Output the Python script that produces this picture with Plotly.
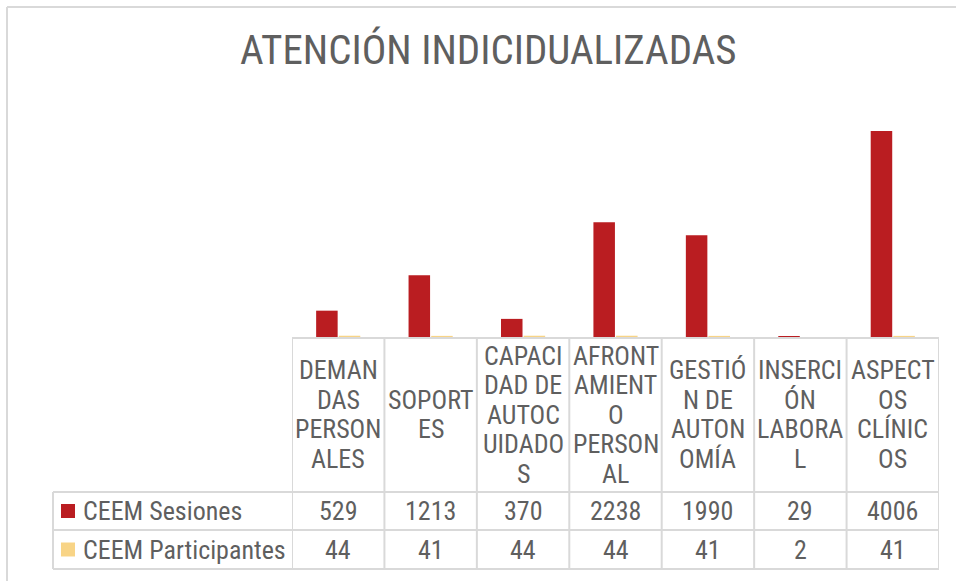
import plotly.graph_objects as go

categories = ["DEMAN<br>DAS<br>PERSON<br>ALES", "SOPORT<br>ES", "CAPACI<br>DAD DE<br>AUTOC<br>UIDADO<br>S",
              "AFRONT<br>AMIENT<br>O<br>PERSON<br>AL", "GESTIÓ<br>N DE<br>AUTON<br>OMÍA", "INSERCI<br>ÓN<br>LABORA<br>L",
              "ASPECT<br>OS<br>CLÍNIC<br>OS"]
series_names = ["CEEM Sesiones", "CEEM Participantes"]
sesiones = [529, 1213, 370, 2238, 1990, 29, 4006]
participantes = [44, 41, 44, 44, 41, 2, 41]
series_values = [sesiones, participantes]
series_colors = ["#BA1D21", "#F8D486"]
title_text = "ATENCIÓN INDICIDUALIZADAS"

W, H = 956, 581
FONT = "Liberation Sans Narrow, Arial Narrow, Roboto Condensed, Liberation Sans, sans-serif"
TXT = "#5f5f5f"
GRID = "#D9D9D9"


def px(x):
    return x / W


def py(y):
    return 1 - y / H


n = len(categories)
xs = list(range(n))

fig = go.Figure()
for name, vals, col in zip(series_names, series_values, series_colors):
    fig.add_trace(go.Bar(x=xs, y=vals, name=name, marker=dict(color=col, line=dict(width=0)),
                         hoverinfo="x+y+name"))

# table geometry (pixels)
x_left, x_plot, x_right = 53, 292, 939
y_base, y_row1, y_row2, y_bot = 338, 492, 530, 569

shapes = []
# outer chart border (top and left edges visible)
shapes.append(dict(type="line", xref="paper", yref="paper", x0=px(7), x1=px(965), y0=py(7), y1=py(7),
                   line=dict(color=GRID, width=2)))
shapes.append(dict(type="line", xref="paper", yref="paper", x0=px(7), x1=px(7), y0=py(7), y1=py(590),
                   line=dict(color=GRID, width=2)))
# horizontal lines
for yy, x0 in [(y_base, x_plot), (y_row1, x_left), (y_row2, x_left), (y_bot, x_left)]:
    shapes.append(dict(type="line", xref="paper", yref="paper", x0=px(x0), x1=px(x_right), y0=py(yy), y1=py(yy),
                       line=dict(color=GRID, width=2)))
# vertical lines
shapes.append(dict(type="line", xref="paper", yref="paper", x0=px(x_left), x1=px(x_left), y0=py(y_row1), y1=py(y_bot),
                   line=dict(color=GRID, width=2)))
for i in range(n + 1):
    shapes.append(dict(type="line", xref="x", yref="paper", x0=i - 0.5, x1=i - 0.5, y0=py(y_base), y1=py(y_bot),
                       line=dict(color=GRID, width=2)))

annotations = []
annotations.append(dict(text=title_text, xref="paper", yref="paper", x=px(488), y=py(50), showarrow=False,
                        xanchor="center", yanchor="middle", font=dict(family=FONT, size=41, color=TXT)))

# category header labels (line by line)
line_h = 29.5
hdr_center = (y_base + y_row1) / 2 - 0.5
for i, lab in enumerate(categories):
    lines = lab.split("<br>")
    k = len(lines)
    for j, ln in enumerate(lines):
        yy = hdr_center + (j - (k - 1) / 2) * line_h
        annotations.append(dict(text=ln, xref="x", yref="paper", x=i, y=py(yy), showarrow=False,
                                xanchor="center", yanchor="middle", font=dict(family=FONT, size=26, color=TXT)))

# data rows
row_centers = [(y_row1 + y_row2) / 2, (y_row2 + y_bot) / 2]
for name, vals, col, yc in zip(series_names, series_values, series_colors, row_centers):
    shapes.append(dict(type="rect", xref="paper", yref="paper", x0=px(61), x1=px(75), y0=py(yc - 7), y1=py(yc + 7),
                       fillcolor=col, line=dict(width=0)))
    annotations.append(dict(text=name, xref="paper", yref="paper", x=px(81), y=py(yc), showarrow=False,
                            xanchor="left", yanchor="middle", font=dict(family=FONT, size=26, color=TXT)))
    for i, v in enumerate(vals):
        annotations.append(dict(text=str(v), xref="x", yref="paper", x=i, y=py(yc), showarrow=False,
                                xanchor="center", yanchor="middle", font=dict(family=FONT, size=26, color=TXT)))

fig.update_layout(
    width=W, height=H, autosize=False,
    margin=dict(l=0, r=0, t=0, b=0),
    paper_bgcolor="white", plot_bgcolor="white",
    barmode="group", bargap=0.51, bargroupgap=0.05,
    showlegend=False,
    xaxis=dict(domain=[px(x_plot), px(x_right)], range=[-0.5, n - 0.5], showticklabels=False,
               showgrid=False, zeroline=False, showline=False, fixedrange=True),
    yaxis=dict(domain=[py(y_base), py(131)], range=[0, max(sesiones)], visible=False, fixedrange=True),
    shapes=shapes, annotations=annotations,
)

fig.write_html("out.html", config={"displayModeBar": False},
               post_script="document.body.style.margin='0';document.body.style.overflow='hidden';")
